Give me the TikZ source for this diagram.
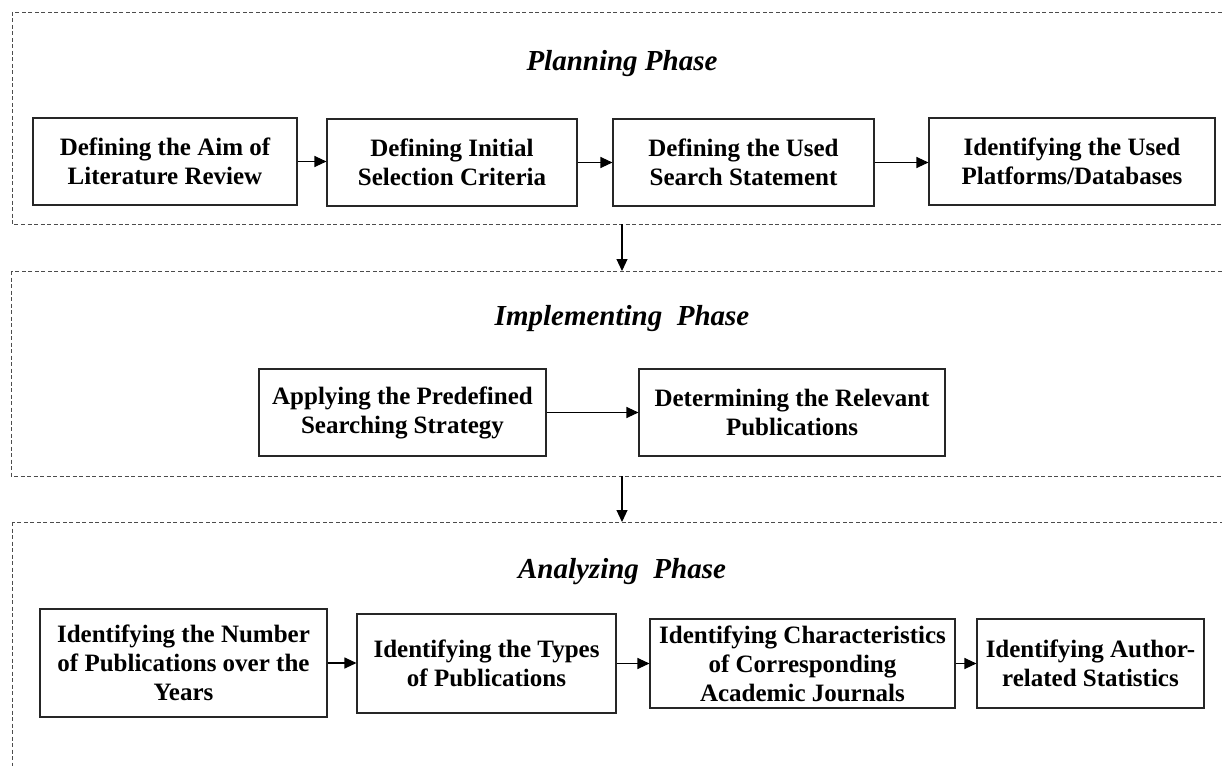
\documentclass[tikz,border=0pt]{standalone}
\usepackage{fontspec}
\setmainfont{Liberation Serif}
\usetikzlibrary{arrows.meta}
\begin{document}
\begin{tikzpicture}[x=1pt,y=-1pt,
  stepbox/.style={draw=black!85,line width=1.1pt,inner sep=0pt,align=center,
    font=\fontsize{25}{29}\selectfont\bfseries},
  phaseframe/.style={draw=black!70,line width=0.9pt,dash pattern=on 4pt off 2.5pt},
  phasetitle/.style={font=\fontsize{29}{33}\selectfont\bfseries\itshape,anchor=base},
  flow/.style={line width=1.1pt,-{Triangle[length=12pt,width=11pt]}}]
\useasboundingbox (0,0) rectangle (1222,765);
\clip (0,0) rectangle (1222,765);

% phase frames (open towards the right and bottom edge)
\draw[phaseframe] (12,12) rectangle (1240,224);
\draw[phaseframe] (11,271) rectangle (1240,476);
\draw[phaseframe] (12,522) rectangle (1240,800);

% phase titles
\node[phasetitle] (tplan) at (622,71) {Planning Phase};
\node[phasetitle] (timpl) at (622,325) {Implementing\ \ Phase};
\node[phasetitle] (tanal) at (622,578) {Analyzing\ \ Phase};

% planning phase
\node[stepbox,minimum width=264pt,minimum height=87pt] (p1) at (165,161.5) {Defining the Aim of\\Literature Review};
\node[stepbox,minimum width=250pt,minimum height=87pt] (p2) at (452,162.5) {Defining Initial\\Selection Criteria};
\node[stepbox,minimum width=261pt,minimum height=87pt] (p3) at (743.5,162.5) {Defining the Used\\Search Statement};
\node[stepbox,minimum width=286pt,minimum height=87pt] (p4) at (1072,161.5) {Identifying the Used\\Platforms/Databases};

% implementing phase
\node[stepbox,minimum width=287pt,minimum height=87pt] (i1) at (402.5,412.5) {Applying the Predefined\\Searching Strategy};
\node[stepbox,minimum width=306pt,minimum height=87pt] (i2) at (792,412.5) {Determining the Relevant\\Publications};

% analyzing phase
\node[stepbox,minimum width=287pt,minimum height=108pt] (a1) at (183.5,663) {Identifying the Number\\of Publications over the\\Years};
\node[stepbox,minimum width=259pt,minimum height=99pt] (a2) at (486.5,663.5) {Identifying the Types\\of Publications};
\node[stepbox,minimum width=305pt,minimum height=89pt] (a3) at (802.5,663.5) {Identifying Characteristics\\of Corresponding\\Academic Journals};
\node[stepbox,minimum width=227pt,minimum height=89pt] (a4) at (1090.5,663.5) {Identifying Author-\\related Statistics};

% links between the phases
\coordinate (d1s) at (622,224);
\coordinate (d1e) at (622,271);
\coordinate (d2s) at (622,476);
\coordinate (d2e) at (622,522);

% connectors
\draw[flow] (p1.east) -- (p1.east -| p2.west);
\draw[flow] (p2.east) -- (p3.west);
\draw[flow] (p3.east) -- (p3.east -| p4.west);
\draw[flow] (i1.east) -- (i2.west);
\draw[flow] (a1.east) -- (a1.east -| a2.west);
\draw[flow] (a2.east) -- (a2.east -| a3.west);
\draw[flow] (a3.east) -- (a4.west);
\draw[flow] (d1s) -- (d1e);
\draw[flow] (d2s) -- (d2e);
\end{tikzpicture}
\end{document}
